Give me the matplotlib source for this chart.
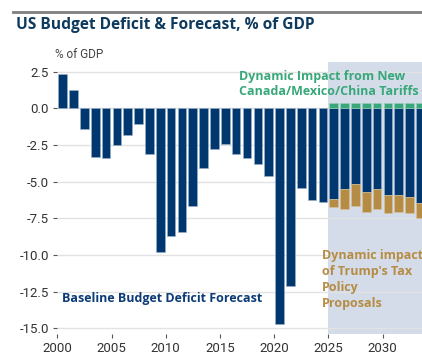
import matplotlib
matplotlib.use("Agg")
import matplotlib.pyplot as plt
from matplotlib.lines import Line2D
import numpy as np

plt.rcParams["font.family"] = ["Roboto", "DejaVu Sans"]
plt.rcParams["axes.unicode_minus"] = False

# fiscal years, deficit as % of GDP
years = np.arange(2000, 2034)
baseline = [2.34, 1.23, -1.43, -3.32, -3.41, -2.48, -1.82, -1.09, -3.09, -9.77,
            -8.70, -8.41, -6.66, -4.07, -2.77, -2.43, -3.14, -3.41, -3.82, -4.61,
            -14.72, -12.11, -5.43, -6.27, -6.37, -6.20, -5.50, -5.18, -5.68, -5.52,
            -5.89, -5.91, -6.07, -6.48]
forecast_years = np.arange(2025, 2034)
tariff_impact = [0.34, 0.34, 0.34, 0.34, 0.34, 0.34, 0.34, 0.34, 0.34]
tax_impact = [-0.50, -1.39, -1.46, -1.37, -1.35, -1.23, -1.14, -1.05, -1.02]

NAVY = "#00376f"
GOLD = "#b68c45"
GREEN = "#38a87a"
SHADE = "#d3dce8"
BOLD_FONT = ["Open Sans", "DejaVu Sans"]

fig = plt.figure(figsize=(4.22, 3.52), dpi=100)
ax = fig.add_axes([57.3 / 422, 1 - 334 / 352, 1 - 57.3 / 422, (334 - 61.7) / 352])

ax.axvspan(2025, 2040, color=SHADE, zorder=0, lw=0)

x = years + 0.5
ax.bar(x, baseline, width=0.8, color=NAVY, edgecolor="#9fb3cc", linewidth=0.4, zorder=3)

fx = forecast_years + 0.5
base_fc = [baseline[list(years).index(y)] for y in forecast_years]
ax.bar(fx, tariff_impact, width=0.8, color=GREEN, edgecolor="#9fcfb8", linewidth=0.4, zorder=3)
ax.bar(fx, tax_impact, bottom=base_fc, width=0.8, color=GOLD, edgecolor="#d8c49c",
       linewidth=0.4, zorder=3)

ax.set_xlim(2000, 2000 + (422 - 57.3) / 10.84)
ax.set_ylim(-15.39, 3.18)
ax.set_yticks(np.arange(-15, 2.6, 2.5))
ax.set_yticklabels([f"{v:.1f}" for v in np.arange(-15, 2.6, 2.5)])
ax.set_xticks(np.arange(2000, 2031, 5))
ax.grid(axis="y", color="#e2e2e2", linewidth=1.0, zorder=1)
ax.set_axisbelow(True)
for s in ax.spines.values():
    s.set_visible(False)
ax.tick_params(axis="both", length=3, width=0.8, color="#555555", labelsize=9.5,
               labelcolor="#333333", pad=3)

ax.text(2016.76, 1.68, "Dynamic Impact from New\nCanada/Mexico/China Tariffs",
        color=GREEN, fontsize=9, fontweight="bold", family=BOLD_FONT,
        va="center", ha="left", linespacing=1.2, zorder=5)
ax.text(2000.43, -13.0, "Baseline Budget Deficit Forecast", color="#0b3b78",
        fontsize=9, fontweight="bold", family=BOLD_FONT,
        va="center", ha="left", zorder=5)
ax.text(2024.39, -11.64, "Dynamic impact\nof Trump's Tax\nPolicy\nProposals",
        color=GOLD, fontsize=9, fontweight="bold", family=BOLD_FONT,
        va="center", ha="left", linespacing=1.3, zorder=5)

fig.add_artist(Line2D([13 / 422, 1], [1 - 12 / 352, 1 - 12 / 352],
                      color="#808080", linewidth=2.0, transform=fig.transFigure))
fig.text(16 / 422, 1 - 25 / 352, "US Budget Deficit & Forecast, % of GDP",
         color="#0e3a5e", fontsize=11.2, fontweight="bold", family=BOLD_FONT,
         va="center", ha="left")
fig.text(55 / 422, 1 - 54 / 352, "% of GDP", color="#444444", fontsize=8.5,
         va="center", ha="left")

fig.savefig("out.png", dpi=100)
